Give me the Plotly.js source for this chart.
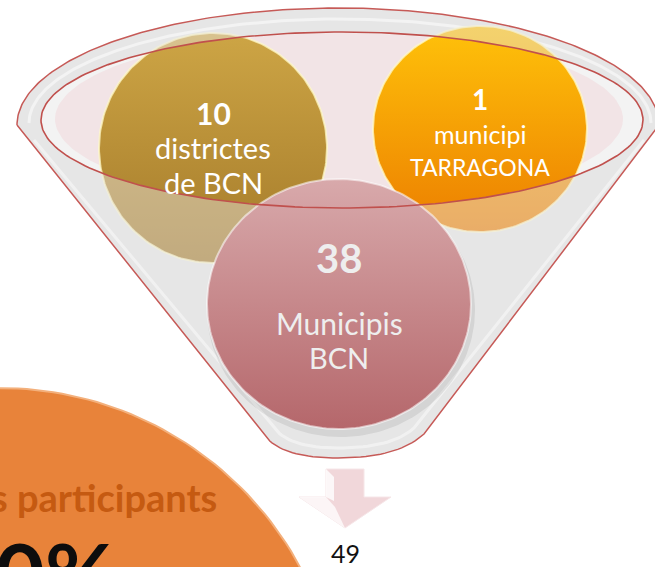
<!DOCTYPE html>
<html>
<head>
<meta charset="utf-8">
<script src="https://cdn.plot.ly/plotly-3.0.1.min.js"></script>
<style>html,body{margin:0;padding:0;background:#fff;}#chart{width:655px;height:567px;}</style>
</head>
<body>
<div id="chart"></div>
<script>
// ---- DATA ----
const categories = ['districtes de BCN', 'municipi TARRAGONA', 'Municipis BCN'];
const counts = [10, 1, 38];
const labelLines = [['districtes', 'de BCN'], ['municipi', 'TARRAGONA'], ['Municipis', 'BCN']];
const totalValue = [49];
const sideCaption = ['s participants'];
const sidePercent = ['0%'];

// ---- GEOMETRY / STYLE (layout only) ----
const W = 655, H = 567;
const FONT = 'Lato, "Open Sans", sans-serif';
const bubbles = [
  {cx: 213, cy: 148, rx: 114, ry: 115, top: '#cda545', bot: '#a47a2a', text: '#ffffff', rim: 'rgba(255,250,200,0.75)', numSize: 30, s1: 29, s2: 29, numY: 113, l1: 147, l2: 182},
  {cx: 480, cy: 129, rx: 107, ry: 103, top: '#ffc20a', bot: '#ec7e00', text: '#ffffff', rim: 'rgba(255,250,200,0.75)', numSize: 28, s1: 25, s2: 23, numY: 99, l1: 134, l2: 167},
  {cx: 339, cy: 304, rx: 132, ry: 125, top: '#d8a9ab', bot: '#b5676b', text: '#eeeeee', rim: 'rgba(255,255,255,0.55)', numSize: 40, s1: 30, s2: 29, numY: 258, l1: 323, l2: 357}
];

function ell(cx, cy, rx, ry, t0, t1, n) {
  n = n || 160; const xs = [], ys = [];
  for (let i = 0; i <= n; i++) { const t = t0 + (t1 - t0) * i / n; xs.push(cx + rx * Math.cos(t)); ys.push(cy + ry * Math.sin(t)); }
  return {x: xs, y: ys};
}
function quad(p0, c, p1, n) {
  n = n || 20; const xs = [], ys = [];
  for (let i = 1; i <= n; i++) { const t = i / n, a = (1 - t) * (1 - t), b = 2 * (1 - t) * t, d = t * t;
    xs.push(a * p0[0] + b * c[0] + d * p1[0]); ys.push(a * p0[1] + b * c[1] + d * p1[1]); }
  return {x: xs, y: ys};
}
function cat(parts) { const x = [], y = []; parts.forEach(p => { x.push(...p.x); y.push(...p.y); }); return {x, y}; }

// funnel outline
const E1 = {cx: 338, cy: 125, rx: 321, ry: 117};
const E2 = {cx: 342, cy: 120, rx: 301, ry: 88};
const L0 = [E1.cx - E1.rx, E1.cy], LB = [266, 437], BM = [338, 458], RB = [424, 434], R0 = [E1.cx + E1.rx, E1.cy];
const outline = cat([
  {x: [L0[0], LB[0]], y: [L0[1], LB[1]]},
  quad(LB, [283, 458], BM),
  quad(BM, [398, 458], RB),
  {x: [R0[0]], y: [R0[1]]},
  ell(E1.cx, E1.cy, E1.rx, E1.ry, 0, -Math.PI, 200)
]);
const innerE = ell(E2.cx, E2.cy, E2.rx, E2.ry, Math.PI, 3 * Math.PI, 240);
const overlay = cat([outline, innerE, {x: [L0[0]], y: [L0[1]]}]);

const traces = [];
function poly(pts, o) {
  traces.push(Object.assign({type: 'scatter', mode: 'lines', x: pts.x, y: pts.y, hoverinfo: 'skip', showlegend: false, line: {width: 0}}, o));
}
// big orange disc bottom-left
poly(ell(0, 729, 341, 341, 0, 2 * Math.PI, 240), {fill: 'toself', fillcolor: '#e8833a', line: {color: '#f3b07c', width: 2}});
// funnel body
poly(outline, {fill: 'toself', fillcolor: '#e6e6e6'});
// white highlight stripes
poly(ell(340, 123, 311, 104, Math.PI, 2 * Math.PI, 200), {line: {color: 'rgba(255,255,255,0.9)', width: 3}});
poly(cat([{x: [34, 274], y: [140, 428]}, quad([274, 428], [290, 448], [338, 448]), quad([338, 448], [392, 448], [414, 428]), {x: [644], y: [140]}]),
  {line: {color: 'rgba(255,255,255,0.8)', width: 3}});
// inner rim
poly(ell(E2.cx, E2.cy, E2.rx, E2.ry, 0, 2 * Math.PI, 200), {fill: 'toself', fillcolor: '#f3f3f3'});
poly(ell(339, 119, 284, 86, 0, 2 * Math.PI, 200), {fill: 'toself', fillcolor: '#f2e4e6'});
// back bubbles (gold, orange)
function bubble(b) {
  poly(ell(b.cx, b.cy, b.rx, b.ry, 0, 2 * Math.PI, 200), {fill: 'toself',
    fillgradient: {type: 'vertical', colorscale: [[0, b.top], [1, b.bot]], start: b.cy - b.ry, stop: b.cy + b.ry},
    line: {color: b.rim, width: 2}});
}
bubble(bubbles[0]);
bubble(bubbles[1]);
// translucent front face of funnel
poly(overlay, {fill: 'toself', fillcolor: 'rgba(231,231,231,0.45)'});
// front bubble shadow + bubble
poly(ell(bubbles[2].cx + 2, bubbles[2].cy + 6, bubbles[2].rx + 2, bubbles[2].ry + 2, 0, 2 * Math.PI, 200), {fill: 'toself', fillcolor: 'rgba(0,0,0,0.08)'});
bubble(bubbles[2]);
// red rims
poly(ell(E2.cx, E2.cy, E2.rx, E2.ry, 0, 2 * Math.PI, 240), {line: {color: '#c0504d', width: 1.6}});
poly(outline, {line: {color: '#c65a57', width: 1.5}});
// arrow
const A = {cx: 345, top: 469, sw: 19, neck: 497, hw: 46, tip: 528};
poly({x: [A.cx - A.sw, A.cx + A.sw, A.cx + A.sw, A.cx + A.hw, A.cx, A.cx - A.hw, A.cx - A.sw, A.cx - A.sw],
      y: [A.top, A.top, A.neck, A.neck, A.tip, A.neck, A.neck, A.top]},
  {fill: 'toself', fillcolor: '#f1d7da', line: {color: '#f6e6e8', width: 1}});
poly({x: [A.cx - A.hw, A.cx - A.sw, A.cx - 10, A.cx], y: [A.neck, A.neck, A.neck + 10, A.tip]}, {fill: 'toself', fillcolor: 'rgba(255,255,255,0.75)'});
poly({x: [A.cx - A.sw, A.cx - A.sw + 8, A.cx - A.sw + 8, A.cx - A.sw], y: [A.top, A.top + 8, A.neck + 4, A.neck]}, {fill: 'toself', fillcolor: 'rgba(255,255,255,0.8)'});

// ---- TEXT ----
const ann = [];
function txt(x, y, s, size, color, bold, xa, ya) {
  ann.push({x, y, xref: 'x', yref: 'y', text: bold ? '<b>' + s + '</b>' : s, showarrow: false,
    xanchor: xa || 'center', yanchor: ya || 'middle', font: {family: FONT, size, color}});
}
bubbles.forEach((b, i) => {
  txt(b.cx, b.numY, String(counts[i]), b.numSize, b.text, true);
  txt(b.cx, b.l1, labelLines[i][0], b.s1, b.text, false);
  txt(b.cx, b.l2, labelLines[i][1], b.s2, b.text, false);
});
txt(345, 553, String(totalValue[0]), 25, '#111111', false);
txt(219, 497, sideCaption[0], 38, '#c55a11', true, 'right');
txt(117, 519, sidePercent[0], 86, '#0d0d0d', true, 'right', 'top');

Plotly.newPlot('chart', traces, {
  width: W, height: H, margin: {l: 0, r: 0, t: 0, b: 0},
  paper_bgcolor: '#ffffff', plot_bgcolor: '#ffffff',
  xaxis: {range: [0, W], visible: false, fixedrange: true},
  yaxis: {range: [H, 0], visible: false, fixedrange: true},
  showlegend: false, annotations: ann
}, {staticPlot: true, displayModeBar: false});
</script>
</body>
</html>
